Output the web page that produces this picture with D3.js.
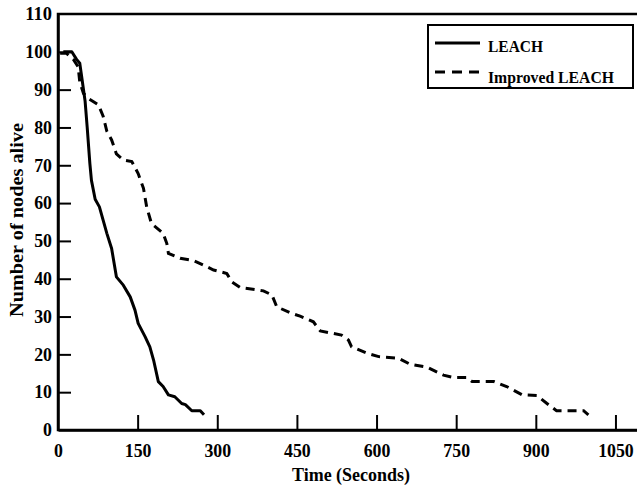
<!DOCTYPE html>
<html>
<head>
<meta charset="utf-8">
<script src="https://cdn.jsdelivr.net/npm/d3@7"></script>
<style>
  body { margin: 0; background: #fff; }
  svg { display: block; }
  text { font-family: "Liberation Serif", "DejaVu Serif", serif; font-weight: bold; fill: #000; }
</style>
</head>
<body>
<svg id="chart" width="637" height="487"></svg>
<script>
// Alive nodes over time
const leachTime  = [10, 26, 35, 41, 45, 51, 55, 60, 63, 70, 78, 85, 92, 101, 110, 123, 136, 145, 151, 164, 173, 180, 189, 198, 208, 220, 233, 240, 252, 268, 275];
const leachAlive = [100, 100, 98, 97, 93, 87, 80, 70.5, 66, 61, 59, 55.5, 52, 48, 40.5, 38.3, 35.2, 31.7, 28.2, 24.7, 22, 18.5, 12.8, 11.5, 9.3, 8.8, 7, 6.7, 5.1, 5.1, 4];

const impTime  = [4, 16, 29, 38, 41, 48, 57, 76, 85, 92, 101, 110, 123, 139, 151, 161, 167, 176, 198, 205, 208, 230, 255, 274, 293, 318, 327, 343, 387, 403, 412, 437, 456, 481, 494, 534, 547, 553, 582, 604, 641, 663, 695, 726, 745, 770, 780, 821, 845, 874, 902, 921, 939, 990, 999];
const impAlive = [99.6, 99.6, 98, 96, 92, 89, 87.7, 86, 83, 79, 76.7, 73, 71.4, 71, 67.8, 63.9, 59, 54.6, 52, 49.3, 46.7, 45.4, 44.8, 43.6, 42.3, 41.4, 39.2, 37.7, 36.8, 35.7, 32.6, 31, 30.1, 28.6, 26.2, 25.1, 23.8, 22, 20.3, 19.4, 19, 17.4, 16.6, 14.5, 13.9, 13.9, 12.8, 12.8, 11.5, 9.3, 9.1, 7, 5.1, 5.1, 4];

const xTicks = [0, 150, 300, 450, 600, 750, 900, 1050];
const yTicks = [0, 10, 20, 30, 40, 50, 60, 70, 80, 90, 100, 110];
const seriesNames = ["LEACH", "Improved LEACH"];

const svg = d3.select('#chart');
const plotLeft = 58, plotRight = 642, plotTop = 14, plotBottom = 430;

const x = d3.scaleLinear().domain([0, 1100]).range([plotLeft, plotRight]);
const y = d3.scaleLinear().domain([0, 110]).range([plotBottom, plotTop]);

// plot frame
svg.append('rect')
    .attr('x', plotLeft).attr('y', plotTop)
    .attr('width', plotRight - plotLeft).attr('height', plotBottom - plotTop)
    .attr('fill', 'none').attr('stroke', '#000').attr('stroke-width', 2.5);

// axes with inward ticks
const yAxis = svg.append('g')
    .attr('transform', `translate(${plotLeft},0)`)
    .call(d3.axisLeft(y).tickValues(yTicks).tickFormat(d3.format('d'))
        .tickSizeInner(-13).tickSizeOuter(0).tickPadding(6));

const xAxis = svg.append('g')
    .attr('transform', `translate(0,${plotBottom})`)
    .call(d3.axisBottom(x).tickValues(xTicks).tickFormat(d3.format('d'))
        .tickSizeInner(-15).tickSizeOuter(0).tickPadding(14));

[xAxis, yAxis].forEach(g => {
    g.attr('font-family', null).attr('font-size', null);
    g.select('.domain').attr('stroke-width', 2.5);
    g.selectAll('line').attr('stroke-width', 2);
    g.selectAll('text').style('font-size', '18px')
        .attr('textLength', d => String(d).length * 8.9)
        .attr('lengthAdjust', 'spacingAndGlyphs');
});
// first/last ticks sit on the frame
yAxis.selectAll('.tick line').filter(d => d === 0 || d === 110).remove();
xAxis.selectAll('.tick line').filter(d => d === 0).remove();

// axis titles
svg.append('text')
    .attr('x', 351).attr('y', 481)
    .attr('text-anchor', 'middle')
    .attr('textLength', 118).attr('lengthAdjust', 'spacingAndGlyphs')
    .style('font-size', '19px')
    .text('Time (Seconds)');

svg.append('text')
    .attr('transform', `translate(23,220) rotate(-90)`)
    .attr('text-anchor', 'middle')
    .attr('textLength', 194).attr('lengthAdjust', 'spacingAndGlyphs')
    .style('font-size', '19px')
    .text('Number of nodes alive');

// series
const line = d3.line().x(d => x(d[0])).y(d => y(d[1]));

svg.append('path')
    .datum(d3.zip(leachTime, leachAlive))
    .attr('d', line)
    .attr('fill', 'none').attr('stroke', '#000')
    .attr('stroke-width', 3).attr('stroke-linejoin', 'round');

svg.append('path')
    .datum(d3.zip(impTime, impAlive))
    .attr('d', line)
    .attr('fill', 'none').attr('stroke', '#000')
    .attr('stroke-width', 3).attr('stroke-dasharray', '9,6');

// legend
const legend = svg.append('g');
legend.append('rect')
    .attr('x', 428).attr('y', 25)
    .attr('width', 205).attr('height', 63)
    .attr('fill', '#fff').attr('stroke', '#000').attr('stroke-width', 2);

const legendLineY = [43, 72];
const legendTextY = [51.5, 83];
const legendTextW = [55, 126];
seriesNames.forEach((name, i) => {
    legend.append('line')
        .attr('x1', 435).attr('x2', 480)
        .attr('y1', legendLineY[i]).attr('y2', legendLineY[i])
        .attr('stroke', '#000').attr('stroke-width', 3)
        .attr('stroke-dasharray', i === 1 ? '10,7' : null);
    legend.append('text')
        .attr('x', 488).attr('y', legendTextY[i])
        .attr('textLength', legendTextW[i]).attr('lengthAdjust', 'spacingAndGlyphs')
        .style('font-size', '17px')
        .text(name);
});
</script>
</body>
</html>
